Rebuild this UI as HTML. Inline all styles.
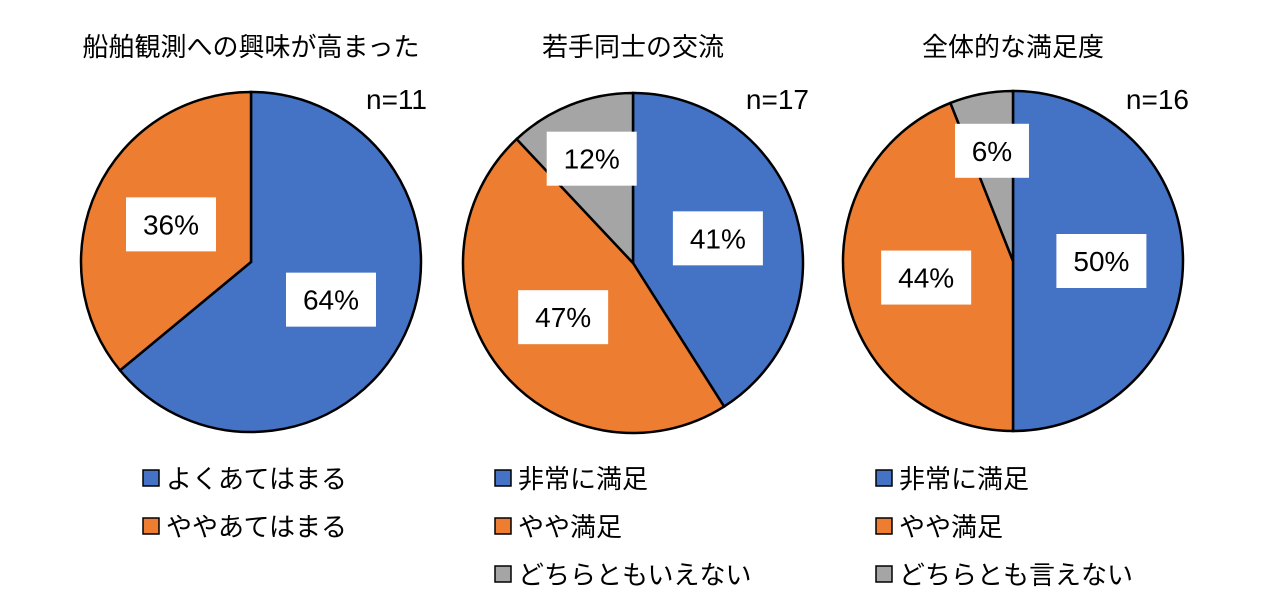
<!DOCTYPE html>
<html><head><meta charset="utf-8">
<style>
body{margin:0;background:#fff;width:1267px;height:610px;overflow:hidden}
svg text{font-family:"Liberation Sans","Noto Sans CJK JP",sans-serif;fill:#000}
</style></head>
<body>
<svg id="c" width="1267" height="610"></svg>
<script>
const titles=["船舶観測への興味が高まった","若手同士の交流","全体的な満足度"];
const nLabels=["n=11","n=17","n=16"];
const values1=[64,36];
const values2=[41,47,12];
const values3=[50,44,6];
const legend1=["よくあてはまる","ややあてはまる"];
const legend2=["非常に満足","やや満足","どちらともいえない"];
const legend3=["非常に満足","やや満足","どちらとも言えない"];
const colors=["#4472c4","#ed7d31","#a5a5a5"];
const NS="http://www.w3.org/2000/svg";
const svg=document.getElementById('c');
function mk(t,a,p){const e=document.createElementNS(NS,t);for(const k in a)e.setAttribute(k,a[k]);(p||svg).appendChild(e);return e;}
const charts=[
 {cx:251,cy:262,vals:values1,leg:legend1,lx:143},
 {cx:633,cy:263,vals:values2,leg:legend2,lx:495},
 {cx:1013,cy:261,vals:values3,leg:legend3,lx:876}];
const R=170;
function pt(cx,cy,r,f){const a=f*2*Math.PI;return [cx+r*Math.sin(a),cy-r*Math.cos(a)];}
charts.forEach((c,i)=>{
  const g=mk('g',{});
  
  
  const t=mk('text',{x:c.cx,y:56,'font-size':26,'text-anchor':'middle'},g);t.textContent=titles[i];
  
  
  const n=mk('text',{x:c.cx+176,y:109,'font-size':28,'text-anchor':'end'},g);n.textContent=nLabels[i];
  
  
  const tot=c.vals.reduce((a,b)=>a+b,0);
  let acc=0;
  c.vals.forEach((v,j)=>{
    const f0=acc/tot,f1=(acc+v)/tot;acc+=v;
    const p0=pt(c.cx,c.cy,R,f0),p1=pt(c.cx,c.cy,R,f1);
    const large=(f1-f0)>0.5?1:0;
    const s=mk('path',{d:`M${c.cx},${c.cy}L${p0[0]},${p0[1]}A${R},${R} 0 ${large} 1 ${p1[0]},${p1[1]}Z`,fill:colors[j],stroke:'#000','stroke-width':2.5},g);
    
    
  });
  acc=0;
  c.vals.forEach((v,j)=>{
    const fm=(acc+v/2)/tot;acc+=v;
    const rr=(v/tot<0.15)?0.66*R:0.52*R;
    const p=pt(c.cx,c.cy,rr,fm);
    const txt=v+'%';
    const w=txt.length*16+42;
    const b=mk('rect',{x:p[0]-w/2,y:p[1]-27,width:w,height:54,fill:'#fff'},g);
    
    
    const l=mk('text',{x:p[0],y:p[1]+10,'font-size':28,'text-anchor':'middle'},g);l.textContent=txt;
    
    
  });
  c.leg.forEach((lab,j)=>{
    const y=478+j*48;
    const sq=mk('rect',{x:c.lx,y:y-8,width:16,height:16,fill:colors[j],stroke:'#000','stroke-width':1.5},g);
    
    
    const lt=mk('text',{x:c.lx+23,y:y+10,'font-size':26},g);lt.textContent=lab;
    
    
  });
});
</script>
</body></html>
